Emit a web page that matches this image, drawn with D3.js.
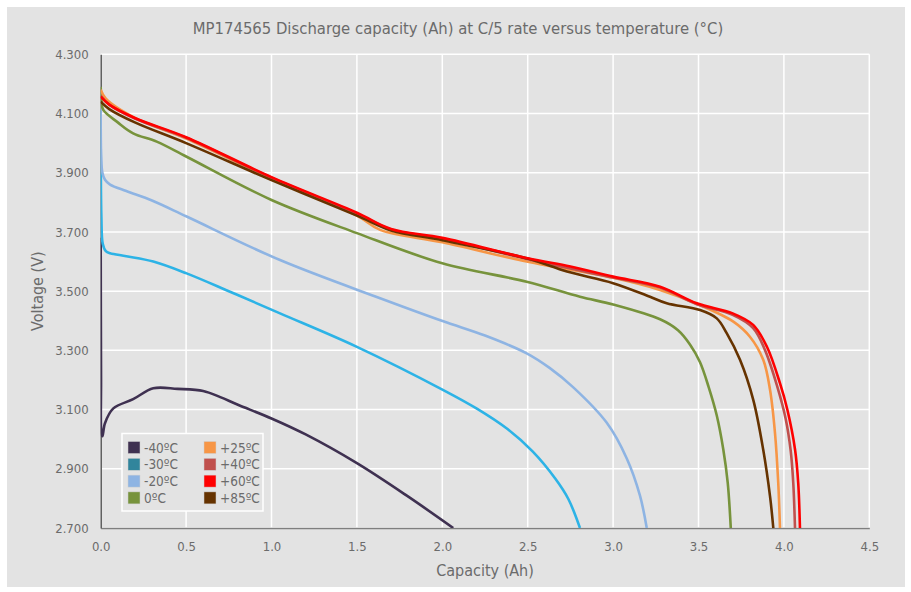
<!DOCTYPE html>
<html>
<head>
<meta charset="utf-8">
<script src="https://cdn.jsdelivr.net/npm/d3@7"></script>
<style>
  body { margin: 0; background: #fff; }
  text { font-family: "Liberation Sans Narrow", "DejaVu Sans Condensed", "Roboto", sans-serif; fill: #6b6b6b; }
</style>
</head>
<body>
<div id="chart"></div>
<script>
// series names, colours and [capacity Ah, voltage V] points
var names = ["-40ºC", "-30ºC", "-20ºC", "0ºC", "+25ºC", "+40ºC", "+60ºC", "+85ºC"];
var lineColors = ["#3f3151", "#2db3e6", "#8eb4e3", "#77933c", "#f79646", "#c0504d", "#ff0000", "#663300"];
var legendColors = ["#3f3151", "#31859c", "#8eb4e3", "#77933c", "#f79646", "#c0504d", "#ff0000", "#663300"];

var m40 = [[0,3.68],[0.002,3.2],[0.004,3.02],[0.01,3.01],[0.025,3.054],[0.074,3.104],[0.19,3.135],[0.308,3.172],
  [0.45,3.17],[0.6,3.163],[0.7,3.142],[0.8,3.117],[1.0,3.07],[1.2,3.016],[1.5,2.919],[1.79,2.81],[2.064,2.70]];
var m30 = [[0,4.11],[0.004,3.75],[0.012,3.66],[0.03,3.635],[0.055,3.628],[0.15,3.618],[0.308,3.60],[0.503,3.56],
  [0.757,3.498],[1.05,3.425],[1.5,3.312],[2.006,3.166],[2.2,3.104],[2.38,3.035],[2.53,2.958],[2.66,2.868],
  [2.738,2.798],[2.806,2.70]];
var m20 = [[0,4.12],[0.003,3.95],[0.01,3.9],[0.025,3.876],[0.055,3.86],[0.15,3.838],[0.3,3.806],[0.503,3.752],
  [1.05,3.605],[1.636,3.476],[2.006,3.398],[2.25,3.35],[2.494,3.29],[2.63,3.24],[2.767,3.175],[2.962,3.056],
  [3.08,2.935],[3.157,2.81],[3.197,2.70]];
var p0 = [[0,4.19],[0.005,4.14],[0.015,4.112],[0.1,4.07],[0.19,4.033],[0.328,4.005],[0.503,3.954],[1.0,3.808],
  [1.5,3.696],[2.0,3.594],[2.494,3.532],[2.806,3.481],[3.0,3.455],[3.275,3.405],[3.38,3.368],[3.45,3.32],
  [3.509,3.26],[3.56,3.175],[3.607,3.08],[3.645,2.966],[3.671,2.853],[3.689,2.70]];
var p25 = [[0,4.18],[0.03,4.15],[0.2,4.085],[0.5,4.015],[1.0,3.88],[1.5,3.755],[1.636,3.707],[2.0,3.665],
  [2.494,3.6],[3.0,3.545],[3.275,3.504],[3.5,3.455],[3.704,3.397],[3.801,3.346],[3.879,3.268],[3.919,3.166],
  [3.948,3.02],[3.967,2.851],[3.977,2.70]];
var p40 = [[0,4.16],[0.05,4.13],[0.2,4.083],[0.5,4.018],[1.0,3.883],[1.5,3.762],[1.7,3.708],[2.0,3.677],
  [2.5,3.608],[3.0,3.546],[3.275,3.512],[3.49,3.456],[3.7,3.42],[3.82,3.375],[3.89,3.30],[3.96,3.18],
  [4.01,3.07],[4.04,2.96],[4.055,2.85],[4.065,2.70]];
var p60 = [[0,4.157],[0.05,4.13],[0.2,4.085],[0.5,4.02],[1.0,3.885],[1.5,3.765],[1.7,3.71],[2.0,3.68],
  [2.5,3.611],[2.75,3.583],[3.0,3.549],[3.275,3.515],[3.49,3.459],[3.70,3.425],[3.82,3.386],[3.9,3.313],
  [3.977,3.189],[4.02,3.10],[4.065,2.966],[4.084,2.851],[4.094,2.70]];
var p85 = [[0,4.14],[0.05,4.115],[0.2,4.07],[0.5,4.0],[1.0,3.875],[1.5,3.755],[1.7,3.705],[2.0,3.672],
  [2.5,3.61],[2.73,3.566],[3.0,3.527],[3.216,3.481],[3.314,3.459],[3.509,3.436],[3.607,3.408],[3.665,3.358],
  [3.743,3.268],[3.821,3.132],[3.879,2.964],[3.919,2.806],[3.938,2.70]];
var series = [m40, m30, m20, p0, p25, p40, p60, p85];
var drawOrder = [0, 1, 2, 3, 4, 5, 7, 6];

var xTicks = [0, 0.5, 1, 1.5, 2, 2.5, 3, 3.5, 4, 4.5];
var yTicks = [2.7, 2.9, 3.1, 3.3, 3.5, 3.7, 3.9, 4.1, 4.3];

var W = 911, H = 592;
var pLeft = 100.7, pRight = 869.3, pTop = 54.3, pBottom = 528;

var svg = d3.select("#chart").append("svg").attr("width", W).attr("height", H);

// grey panel
svg.append("rect").attr("x", 7).attr("y", 7).attr("width", 898).attr("height", 580).attr("fill", "#e3e3e3");

var x = d3.scaleLinear().domain([0, 4.5]).range([pLeft, pRight]);
var y = d3.scaleLinear().domain([2.7, 4.3]).range([pBottom, pTop]);

// grid
svg.append("g").selectAll("line").data(xTicks).join("line")
  .attr("x1", d => x(d)).attr("x2", d => x(d)).attr("y1", pTop).attr("y2", pBottom)
  .attr("stroke", "#fff").attr("stroke-width", 1.5);
svg.append("g").selectAll("line").data(yTicks).join("line")
  .attr("x1", pLeft).attr("x2", pRight).attr("y1", d => y(d)).attr("y2", d => y(d))
  .attr("stroke", "#fff").attr("stroke-width", 1.5);

// axes (labels only, no tick marks)
var xAxis = svg.append("g").attr("transform", "translate(0," + pBottom + ")")
  .call(d3.axisBottom(x).tickValues(xTicks).tickFormat(d3.format(".1f")).tickSize(0).tickPadding(14));
xAxis.select(".domain").attr("stroke", "#7f7f7f").attr("stroke-width", 1.5);
var yAxis = svg.append("g").attr("transform", "translate(" + pLeft + ",0)")
  .call(d3.axisLeft(y).tickValues(yTicks).tickFormat(d3.format(".3f")).tickSize(0).tickPadding(12));
yAxis.select(".domain").attr("stroke", "#595959").attr("stroke-width", 1.5);
svg.selectAll(".tick text").style("font-size", "13px").attr("fill", "#707070")
  .style("font-family", "'Liberation Sans Narrow', 'DejaVu Sans Condensed', sans-serif");

// lines
svg.append("clipPath").attr("id", "clip").append("rect")
  .attr("x", pLeft).attr("y", pTop - 2).attr("width", pRight - pLeft).attr("height", pBottom - pTop + 2);
var line = d3.line().x(d => x(d[0])).y(d => y(d[1])).curve(d3.curveCatmullRom.alpha(0.5));
svg.append("g").attr("clip-path", "url(#clip)").selectAll("path").data(drawOrder).join("path")
  .attr("d", i => line(series[i]))
  .attr("fill", "none").attr("stroke", i => lineColors[i]).attr("stroke-width", 2.6)
  .attr("stroke-linejoin", "round");

// titles
svg.append("text").attr("x", 458).attr("y", 34).attr("text-anchor", "middle")
  .style("font-size", "16.5px").attr("fill", "#6b6b6b")
  .text("MP174565 Discharge capacity (Ah) at C/5 rate versus temperature (°C)");
svg.append("text").attr("x", (pLeft + pRight) / 2).attr("y", 576).attr("text-anchor", "middle")
  .style("font-size", "16px").text("Capacity (Ah)");
svg.append("text").attr("transform", "translate(43," + ((pTop + pBottom) / 2) + ") rotate(-90)")
  .attr("text-anchor", "middle").style("font-size", "16px").text("Voltage (V)");

// legend
var lg = svg.append("g");
lg.append("rect").attr("x", 122).attr("y", 433.5).attr("width", 141).attr("height", 77.5)
  .attr("fill", "#e3e3e3").attr("stroke", "#fff").attr("stroke-width", 1.5);
var item = lg.selectAll("g").data(names).join("g")
  .attr("transform", (d, i) => "translate(" + (i < 4 ? 128 : 204) + "," + (447.5 + (i % 4) * 16.8) + ")");
item.append("rect").attr("x", 0).attr("y", -6).attr("width", 12).attr("height", 12)
  .attr("fill", (d, i) => legendColors[i]).attr("stroke", "#d0d0d0").attr("stroke-width", 0.5);
item.append("text").attr("x", 16).attr("y", 5).style("font-size", "13.5px").attr("fill", "#555").text(d => d);
</script>
</body>
</html>
